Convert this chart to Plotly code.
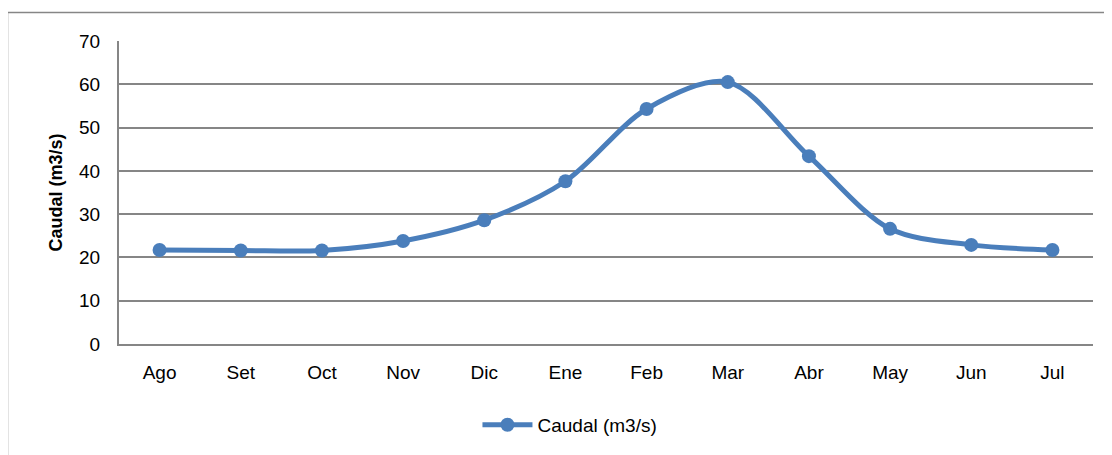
import plotly.graph_objects as go

meses = ["Ago", "Set", "Oct", "Nov", "Dic", "Ene", "Feb", "Mar", "Abr", "May", "Jun", "Jul"]
caudal = [21.7, 21.6, 21.6, 23.8, 28.6, 37.6, 54.3, 60.5, 43.4, 26.6, 22.9, 21.7]

azul = "#4a7ebb"
gris = "#868686"
fuente = "Liberation Sans, Arial"

fig = go.Figure()
fig.add_trace(go.Scatter(x=meses, y=caudal,
                         mode="lines+markers",
                         name="Caudal (m3/s)",
                         line=dict(color=azul, width=5, shape="spline", smoothing=0.9),
                         marker=dict(color=azul, size=14)))

# marco exterior del gráfico (sale por la derecha y por abajo)
fig.add_shape(type="rect", xref="paper", yref="paper",
              x0=-0.1145, x1=1.03, y0=-0.4, y1=1.094,
              line=dict(color=gris, width=1.5), layer="below")

# la página tiene 8px de margen en el body, se compensa aquí
fig.update_layout(
    width=1112, height=455,
    margin=dict(l=111, r=27, t=33, b=119),
    paper_bgcolor="white", plot_bgcolor="white",
    font=dict(family=fuente, size=19, color="black"),
    showlegend=True,
    legend=dict(orientation="h", x=0.463, xanchor="center", y=-0.267, yanchor="middle",
                font=dict(size=19), itemwidth=50),
)
fig.update_xaxes(type="category", range=[-0.5, 11.5], showgrid=False,
                 showline=True, linecolor=gris, linewidth=2,
                 ticks="", ticklabelstandoff=10)
fig.update_yaxes(range=[0, 70], dtick=10, showgrid=True, gridcolor=gris, gridwidth=2,
                 showline=True, linecolor=gris, linewidth=2, zeroline=False,
                 ticks="", ticklabelstandoff=13,
                 title=dict(text="<b>Caudal (m3/s)</b>", font=dict(size=18, family=fuente), standoff=12))

fig.write_html("out.html")
